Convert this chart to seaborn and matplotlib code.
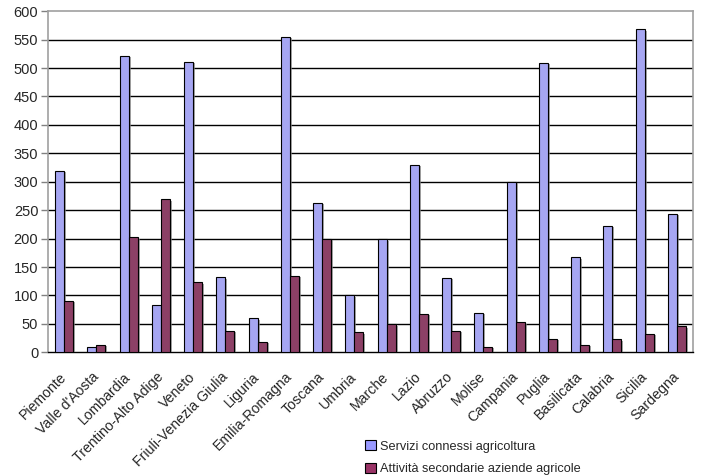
import matplotlib
matplotlib.use("Agg")
import matplotlib.pyplot as plt
import matplotlib.patheffects as pe
from matplotlib.patches import Patch
import numpy as np
import pandas as pd
import seaborn as sns

regioni = ["Piemonte", "Valle d'Aosta", "Lombardia", "Trentino-Alto Adige", "Veneto",
           "Friuli-Venezia Giulia", "Liguria", "Emilia-Romagna", "Toscana", "Umbria",
           "Marche", "Lazio", "Abruzzo", "Molise", "Campania", "Puglia", "Basilicata",
           "Calabria", "Sicilia", "Sardegna"]
servizi = [319, 10, 522, 84, 511, 132, 60, 555, 263, 100,
           199, 330, 131, 70, 300, 509, 167, 223, 568, 244]
attivita = [91, 13, 202, 269, 123, 38, 18, 135, 200, 35,
            49, 68, 38, 10, 53, 24, 13, 23, 32, 46]
serie = ["Servizi connessi agricoltura", "Attività secondarie aziende agricole"]
colori = ["#9999FF", "#993366"]

df = pd.DataFrame({
    "regione": regioni * 2,
    "valore": servizi + attivita,
    "serie": [serie[0]] * len(regioni) + [serie[1]] * len(regioni),
})

sns.set_style("white")
plt.rcParams["font.family"] = ["Liberation Sans", "DejaVu Sans"]

fig = plt.figure(figsize=(7.02, 4.76), dpi=100)
ax = fig.add_axes([48 / 702, 1 - 352.3 / 476, (693 - 48) / 702, (352.3 - 11.2) / 476])

sns.barplot(data=df, x="regione", y="valore", hue="serie", palette=colori,
            width=0.56, dodge=True, edgecolor="black", linewidth=0.8,
            legend=False, ax=ax, zorder=3)

shadow = [pe.SimplePatchShadow(offset=(1.5, -1.0), shadow_rgbFace="#808080", alpha=0.7),
          pe.Normal()]
for p in ax.patches:
    p.set_path_effects(shadow)

ax.set_xlim(-0.5, len(regioni) - 0.5)
ax.set_ylim(0, 600)
ax.set_yticks(np.arange(0, 601, 50))
ax.set_ylabel("")
ax.set_xlabel("")

for y in range(50, 600, 50):
    ax.axhline(y, color="black", linewidth=1.0, zorder=1)

ax.set_xticks(range(len(regioni)))
ax.set_xticklabels(regioni, rotation=45, ha="right", va="center",
                   rotation_mode="anchor", fontsize=10.2)
ax.tick_params(axis="x", which="major", length=0, pad=16)
ax.set_xticks(np.arange(-0.5, len(regioni), 1.0), minor=True)
ax.tick_params(axis="x", which="minor", length=5, color="#808080", width=1, direction="out")
ax.tick_params(axis="y", length=5, color="#808080", width=1, direction="out",
               labelsize=10.5, pad=2, left=True)

for side in ["left", "top", "right"]:
    ax.spines[side].set_color("#a0a0a0")
    ax.spines[side].set_linewidth(1.2)
ax.spines["bottom"].set_color("black")
ax.spines["bottom"].set_linewidth(1.0)

handles = [Patch(facecolor=c, edgecolor="black", linewidth=0.8) for c in colori]
fig.legend(handles, serie, loc="upper left", bbox_to_anchor=(360 / 702, 1 - 435 / 476),
           frameon=False, fontsize=9.2, handlelength=0.85, handleheight=0.85,
           handletextpad=0.35, labelspacing=0.8, borderaxespad=0)

fig.savefig("out.png", dpi=100)
